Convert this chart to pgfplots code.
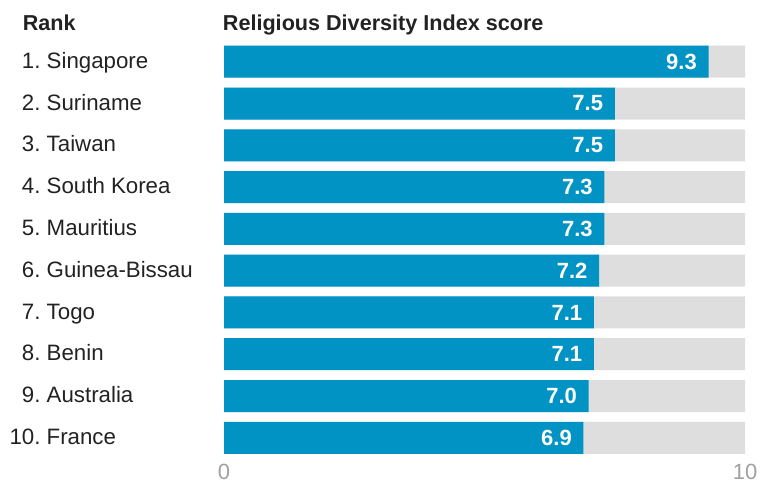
\documentclass[border=0pt]{standalone}
\usepackage{fontspec}
\setmainfont{Liberation Sans}
\usepackage{pgfplots}
\pgfplotsset{compat=1.18}
\definecolor{barblue}{HTML}{0093C4}
\definecolor{bargrey}{HTML}{DEDEDE}
\definecolor{tickgrey}{HTML}{A0A0A0}
\definecolor{labtext}{HTML}{222222}
\newcommand{\rk}[2]{\makebox[1.39em][r]{#1.}\ #2}
\begin{document}
\begin{tikzpicture}
\useasboundingbox (0,0) rectangle (571.5pt,362.25pt);
\begin{axis}[
  at={(168pt,18.225pt)}, anchor=south west,
  scale only axis, width=390.75pt, height=313.4pt,
  xmin=0, xmax=10, ymin=0.5, ymax=10.5, y dir=reverse,
  axis line style={draw=none}, tick style={draw=none},
  major tick length=0pt,
  /pgf/number format/assume math mode=true,
  xtick={0,10},
  xticklabel style={font=\fontsize{16.5}{18}\selectfont, text=tickgrey, yshift=-0.7pt},
  ytick={1,...,10},
  yticklabels={\rk{1}{Singapore},\rk{2}{Suriname},\rk{3}{Taiwan},\rk{4}{South Korea},\rk{5}{Mauritius},\rk{6}{Guinea-Bissau},\rk{7}{Togo},\rk{8}{Benin},\rk{9}{Australia},\rk{10}{France}},
  yticklabel style={anchor=base west, inner sep=0pt, xshift=-161pt, yshift=-5pt, font=\fontsize{16.7}{19}\selectfont, text=labtext},
  clip=false,
]
\addplot[xbar, fill=bargrey, draw=none, bar width=24pt, bar shift=0pt]
  coordinates {(10,1) (10,2) (10,3) (10,4) (10,5) (10,6) (10,7) (10,8) (10,9) (10,10)};
\addplot[xbar, fill=barblue, draw=none, bar width=24pt, bar shift=0pt,
  point meta=x, nodes near coords,
  nodes near coords style={anchor=east, xshift=-8.6pt, inner sep=0pt, text=white, font=\fontsize{16.5}{18}\selectfont\bfseries,
    /pgf/number format/.cd, fixed, fixed zerofill, precision=1}]
  coordinates {(9.3,1) (7.5,2) (7.5,3) (7.3,4) (7.3,5) (7.2,6) (7.1,7) (7.1,8) (7.0,9) (6.9,10)};
\end{axis}
\node[anchor=base west, inner sep=0pt, font=\fontsize{16.2}{18}\selectfont\bfseries, text=labtext] at (16.9pt,339.2pt) {Rank};
\node[anchor=base west, inner sep=0pt, font=\fontsize{16.2}{18}\selectfont\bfseries, text=labtext] at (167pt,339.2pt) {Religious Diversity Index score};
\end{tikzpicture}
\end{document}
